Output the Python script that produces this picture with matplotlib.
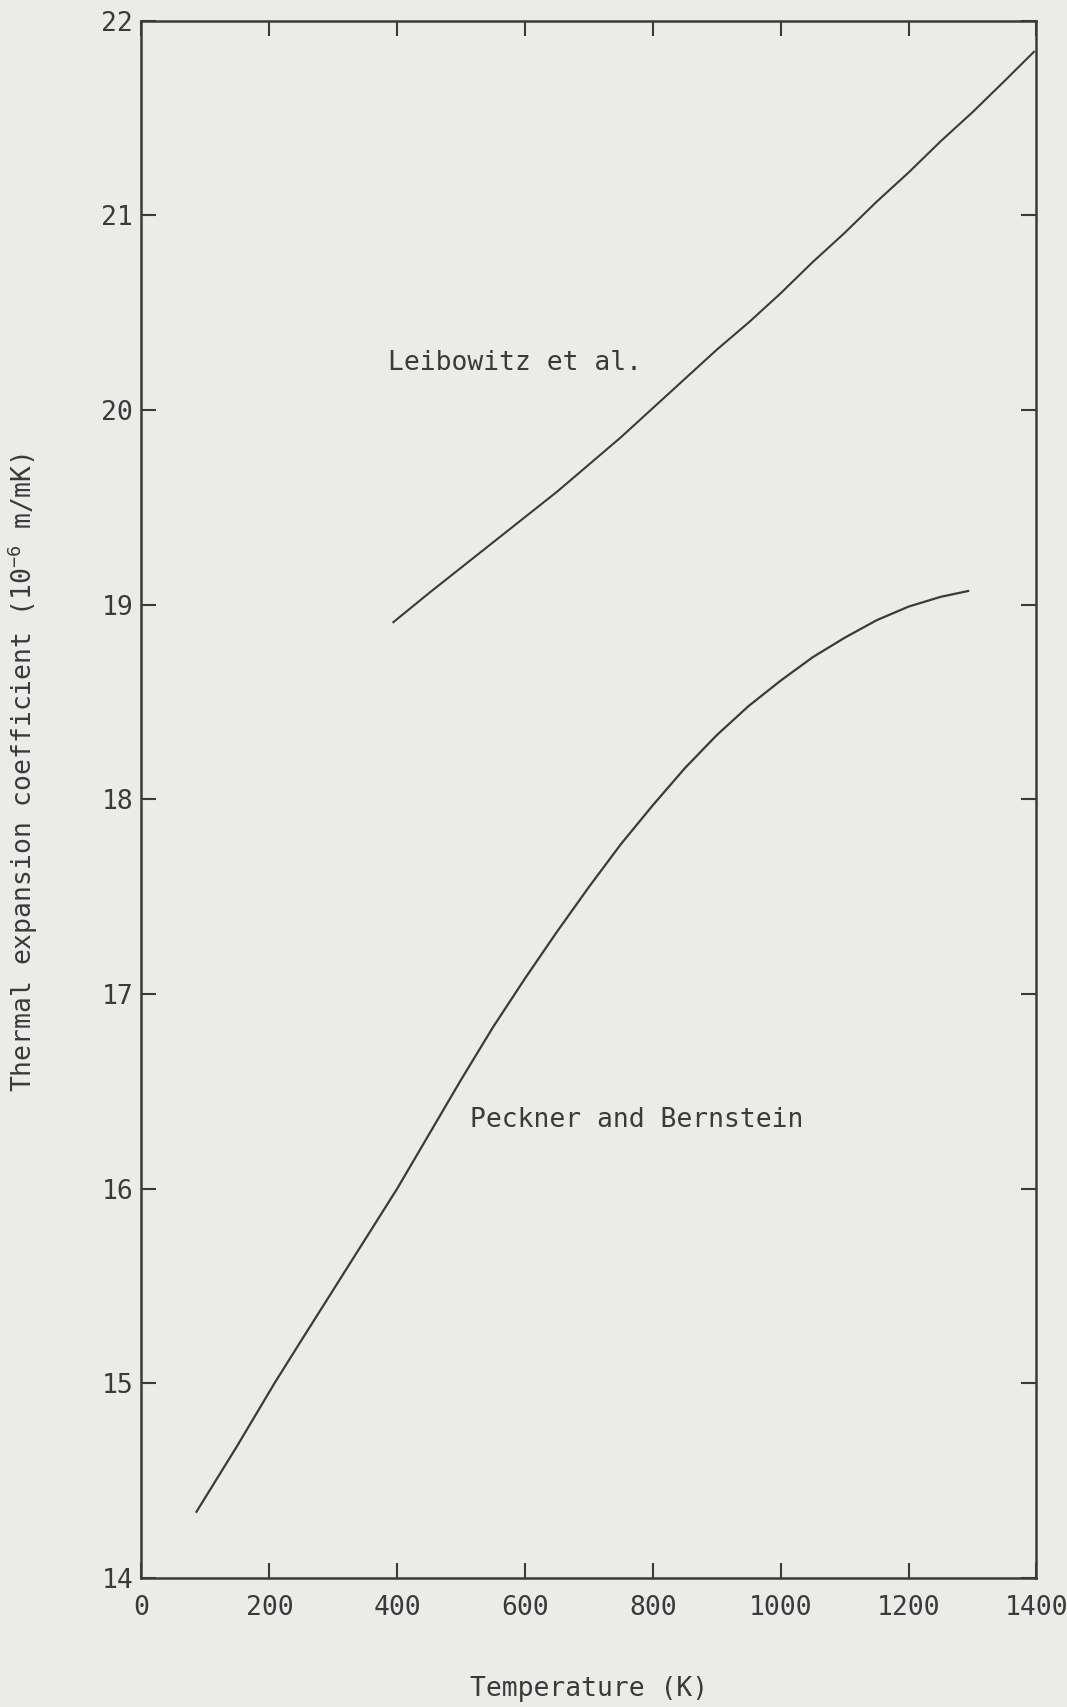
import matplotlib
matplotlib.use("Agg")
import matplotlib.pyplot as plt

# values
leib_temp = [394, 450, 500, 550, 600, 650, 700, 750, 800, 850, 900, 950, 1000,
             1050, 1100, 1150, 1200, 1250, 1300, 1350, 1396]
leib_coef = [18.91, 19.06, 19.19, 19.32, 19.45, 19.58, 19.72, 19.86, 20.01, 20.16, 20.31, 20.45, 20.60,
             20.76, 20.91, 21.07, 21.22, 21.38, 21.53, 21.69, 21.84]

peck_temp = [86, 150, 208, 250, 300, 350, 400, 450, 500, 550, 600, 650, 700, 750, 800,
             850, 900, 950, 1000, 1050, 1100, 1150, 1200, 1250, 1293]
peck_coef = [14.34, 14.68, 15.0, 15.22, 15.48, 15.74, 16.0, 16.28, 16.56, 16.83, 17.08, 17.32, 17.55, 17.77, 17.97,
             18.16, 18.33, 18.48, 18.61, 18.73, 18.83, 18.92, 18.99, 19.04, 19.07]

x_ticks = [0, 200, 400, 600, 800, 1000, 1200, 1400]
y_ticks = [14, 15, 16, 17, 18, 19, 20, 21, 22]

bg = "#ebebe9"
ink = "#3a3a3a"
mono = ["DejaVu Sans Mono", "DejaVu Sans"]

plt.rcParams["font.family"] = mono
plt.rcParams["mathtext.fontset"] = "custom"
plt.rcParams["mathtext.rm"] = "DejaVu Sans Mono"
plt.rcParams["mathtext.it"] = "DejaVu Sans Mono"

fig = plt.figure(figsize=(10.67, 17.07), dpi=100, facecolor=bg)
ax = fig.add_axes([0.1326, 0.0756, 0.8388, 0.9123])
ax.set_facecolor(bg)

ax.plot(leib_temp, leib_coef, color=ink, lw=1.5)
ax.plot(peck_temp, peck_coef, color=ink, lw=1.6)

ax.text(386, 20.24, "Leibowitz et al.", fontsize=19, color=ink, va="center", ha="left")
ax.text(514, 16.35, "Peckner and Bernstein", fontsize=19, color=ink, va="center", ha="left")

ax.set_xlim(0, 1400)
ax.set_ylim(14, 22)
ax.set_xticks(x_ticks)
ax.set_yticks(y_ticks)

# ticks point into the plot on every side, labels only bottom/left
ax.tick_params(axis="both", direction="in", length=11, width=1.5, color=ink,
               labelsize=19, labelcolor=ink, top=True, right=True)
ax.tick_params(axis="x", pad=12)
ax.tick_params(axis="y", pad=6)
for s in ax.spines.values():
    s.set_color(ink)
    s.set_linewidth(1.8)

ax.set_xlabel("Temperature (K)", fontsize=19, color=ink)
ax.xaxis.set_label_coords(0.5, -0.063)
ax.set_ylabel("Thermal expansion coefficient (10$^{-6}$ m/mK)", fontsize=19, color=ink)
ax.yaxis.set_label_coords(-0.113, 0.517)

fig.savefig("out.png", dpi=100, facecolor=bg)
